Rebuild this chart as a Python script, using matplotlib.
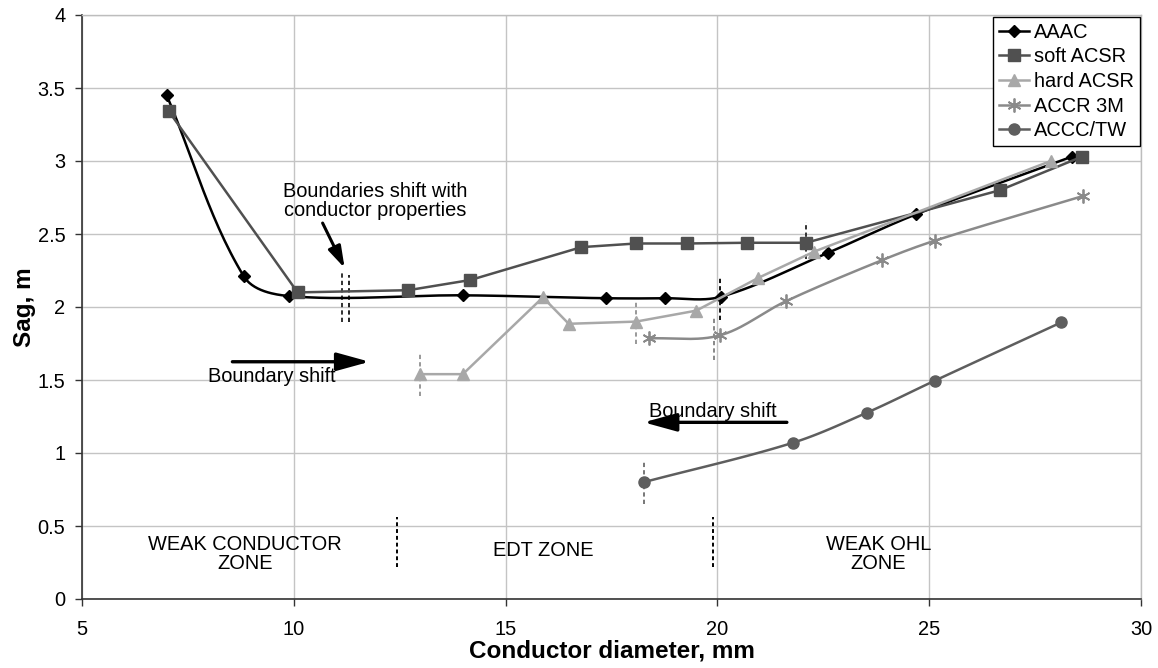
import numpy as np
import matplotlib
matplotlib.use("Agg")
import matplotlib.pyplot as plt
from matplotlib import ticker

plt.rcParams['font.family'] = ['Liberation Sans', 'DejaVu Sans']

# ---- data -------------------------------------------------------------
aaac_d = [7.0, 8.82, 9.89, 13.99, 17.37, 18.77, 20.08, 22.6, 24.69, 28.37]
aaac_s = [3.45, 2.21, 2.075, 2.08, 2.06, 2.06, 2.07, 2.37, 2.635, 3.03]

soft_d = [7.05, 10.09, 12.70, 14.17, 16.79, 18.08, 19.28, 20.70, 22.09, 26.67, 28.61]
soft_s = [3.34, 2.10, 2.115, 2.185, 2.41, 2.435, 2.435, 2.44, 2.44, 2.80, 3.03]

hard_d = [12.97, 13.99, 15.88, 16.49, 18.08, 19.50, 20.97, 22.29, 27.87]
hard_s = [1.54, 1.54, 2.066, 1.885, 1.90, 1.975, 2.20, 2.38, 3.0]

accr_d = [18.38, 20.05, 21.62, 23.88, 25.14, 28.63]
accr_s = [1.785, 1.805, 2.04, 2.32, 2.455, 2.76]

accc_d = [18.26, 21.78, 23.52, 25.13, 28.12]
accc_s = [0.80, 1.07, 1.275, 1.495, 1.895]

# boundary marks for each conductor: diameter, sag range, colour
bound_x = [11.14, 11.30, 12.97, 18.08, 20.06, 19.93, 22.09, 18.26]
bound_lo = [1.90, 1.90, 1.39, 1.75, 1.91, 1.64, 2.33, 0.65]
bound_hi = [2.24, 2.22, 1.685, 2.04, 2.205, 1.935, 2.585, 0.94]
bound_c = ['#333333', '#222222', '#999999', '#999999', '#111111',
           '#888888', '#333333', '#777777']

# zone dividers
zone_x = [12.43, 19.9]
zone_lo, zone_hi = 0.22, 0.56
zone_labels = ['WEAK CONDUCTOR\nZONE', 'EDT ZONE', 'WEAK OHL\nZONE']
zone_label_x = [8.85, 15.9, 23.8]
zone_label_y = [0.305, 0.33, 0.305]

FS = 14.4

fig = plt.figure(figsize=(11.58, 6.68), dpi=100)
ax = fig.add_axes([82 / 1158, 1 - 599 / 668, (1141 - 82) / 1158, (599 - 15) / 668])
ax.set_xlim(5, 30)
ax.set_ylim(0, 4)


def smooth(xs, ys, n=30):
    """Bezier smoothing through the points, computed in display space
    with chord-length scaled tangents."""
    P = ax.transData.transform(np.column_stack([xs, ys]).astype(float))
    ext = np.vstack([P[0], P, P[-1]])
    t = np.linspace(0, 1, n)[:, None]
    segs = []
    for i in range(len(P) - 1):
        p0, p1, p2, p3 = ext[i], ext[i + 1], ext[i + 2], ext[i + 3]
        L = np.linalg.norm(p2 - p1)
        d1 = p2 - p0
        d1 = d1 / np.linalg.norm(d1)
        d2 = p3 - p1
        d2 = d2 / np.linalg.norm(d2)
        c1 = p1 + d1 * L / 3.0
        c2 = p2 - d2 * L / 3.0
        seg = ((1 - t) ** 3) * p1 + 3 * ((1 - t) ** 2) * t * c1 \
            + 3 * (1 - t) * t ** 2 * c2 + t ** 3 * p2
        segs.append(seg if i == len(P) - 2 else seg[:-1])
    C = ax.transData.inverted().transform(np.vstack(segs))
    marks = [k * (n - 1) for k in range(len(P))]
    return C[:, 0], C[:, 1], marks


lw = 1.8
x, y, m = smooth(aaac_d, aaac_s)
ax.plot(x, y, color='black', lw=lw, marker='D', ms=6.5, markevery=m,
        label='AAAC', zorder=3)
ax.plot(soft_d, soft_s, color='#505050', lw=lw, marker='s', ms=8,
        label='soft ACSR', zorder=3)
ax.plot(hard_d, hard_s, color='#a8a8a8', lw=lw, marker='^', ms=8.5,
        label='hard ACSR', zorder=3)
x, y, m = smooth(accr_d, accr_s)
ax.plot(x, y, color='#8a8a8a', lw=lw, marker=(6, 2, 0), ms=10, mew=1.3,
        markevery=m, label='ACCR 3M', zorder=3)
x, y, m = smooth(accc_d, accc_s)
ax.plot(x, y, color='#5e5e5e', lw=lw, marker='o', ms=8, markevery=m,
        label='ACCC/TW', zorder=3)

for bx, lo, hi, c in zip(bound_x, bound_lo, bound_hi, bound_c):
    ax.plot([bx, bx], [lo, hi], color=c, lw=1.4, ls=(0, (2.2, 1.6)), zorder=2)

for zx in zone_x:
    ax.plot([zx, zx], [zone_lo, zone_hi], color='black', lw=1.4,
            ls=(0, (2, 1.5)), zorder=2)
for lab, lx, ly in zip(zone_labels, zone_label_x, zone_label_y):
    ax.text(lx, ly, lab, ha='center', va='center', fontsize=FS,
            linespacing=1.0)

# annotations
ax.text(11.93, 2.725, 'Boundaries shift with\nconductor properties',
        ha='center', va='center', fontsize=FS, linespacing=1.0)
ax.annotate('', xy=(11.20, 2.267), xytext=(10.68, 2.575),
            arrowprops=dict(arrowstyle='-|>,head_length=1.3,head_width=0.4',
                            mutation_scale=10, lw=2.2, color='black',
                            shrinkA=0, shrinkB=0))
ax.annotate('', xy=(11.79, 1.625), xytext=(8.55, 1.625),
            arrowprops=dict(arrowstyle='-|>,head_length=2.0,head_width=0.55',
                            mutation_scale=10, lw=2.4, color='black',
                            shrinkA=0, shrinkB=0))
ax.text(9.47, 1.523, 'Boundary shift', ha='center', va='center', fontsize=FS)
ax.annotate('', xy=(18.26, 1.21), xytext=(21.64, 1.21),
            arrowprops=dict(arrowstyle='-|>,head_length=2.0,head_width=0.55',
                            mutation_scale=10, lw=2.4, color='black',
                            shrinkA=0, shrinkB=0))
ax.text(19.9, 1.283, 'Boundary shift', ha='center', va='center', fontsize=FS)

# axes styling
ax.xaxis.set_major_locator(ticker.MultipleLocator(5))
ax.yaxis.set_major_locator(ticker.MultipleLocator(0.5))
ax.yaxis.set_major_formatter(ticker.FuncFormatter(lambda v, p: '%g' % v))
ax.grid(True, color='#c4c4c4', lw=1.0)
ax.set_axisbelow(True)
for s in ['left', 'bottom']:
    ax.spines[s].set_color('#333333')
    ax.spines[s].set_linewidth(1.2)
for s in ['top', 'right']:
    ax.spines[s].set_color('#bdbdbd')
    ax.spines[s].set_linewidth(1.0)
ax.tick_params(axis='both', direction='out', length=5, width=1.0,
               color='#333333', labelsize=FS)
ax.tick_params(axis='x', pad=10)
ax.tick_params(axis='y', pad=7)

ax.set_xlabel('Conductor diameter, mm', fontsize=17.5, fontweight='bold')
ax.set_ylabel('Sag, m', fontsize=17.5, fontweight='bold')
ax.xaxis.set_label_coords(0.5, -0.070)
ax.yaxis.set_label_coords(-0.043, 0.5)

leg = ax.legend(loc='upper right', bbox_to_anchor=(0.999, 0.997),
                borderaxespad=0, fancybox=False, framealpha=1,
                edgecolor='black', fontsize=FS, handlelength=1.5,
                handletextpad=0.25, borderpad=0.3, labelspacing=0.28)
leg.get_frame().set_linewidth(1.0)

fig.savefig('out.png', dpi=100)
